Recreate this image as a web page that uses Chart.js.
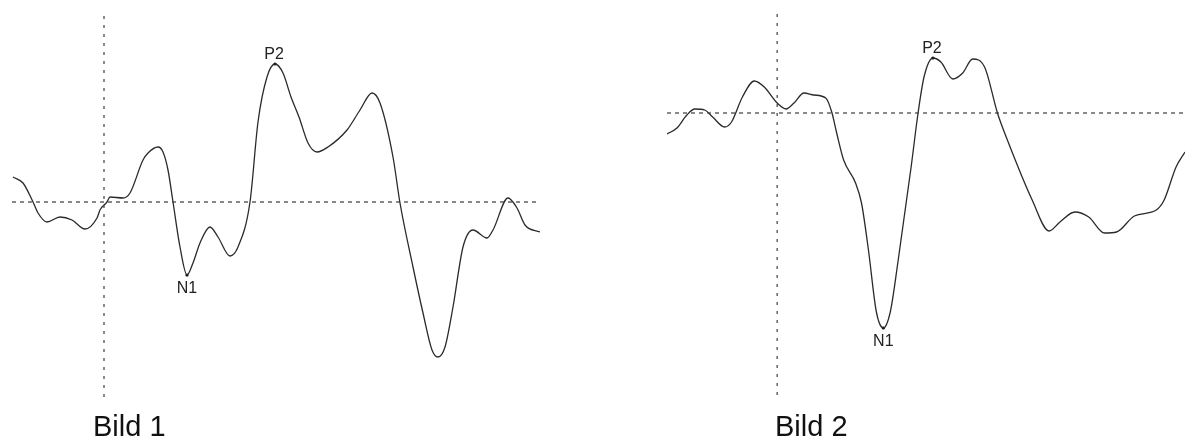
<!DOCTYPE html>
<html>
<head>
<meta charset="utf-8">
<script src="https://cdn.jsdelivr.net/npm/chart.js@4/dist/chart.umd.min.js"></script>
<style>
  html, body { margin: 0; padding: 0; background: #fff; }
  body { width: 1189px; height: 441px; position: relative; overflow: hidden; }
  .panel { position: absolute; top: 0; height: 441px; }
  .caption { position: absolute; font-family: "Liberation Sans", Arial, sans-serif; font-size: 29px; color: #111; line-height: 1; white-space: nowrap; }
</style>
</head>
<body>
<div class="panel" id="p1" style="left:0;width:560px;"><canvas id="c1"></canvas></div>
<div class="panel" id="p2" style="left:640px;width:549px;"><canvas id="c2"></canvas></div>
<div class="caption" style="left:93px;top:412px;">Bild 1</div>
<div class="caption" style="left:775px;top:412px;">Bild 2</div>
<script>
// Evoked potential, Bild 1: time (ms) relative to stimulus onset, amplitude (µV)
const time1 = [-182, -162, -142, -132, -114, -88, -64, -38, -14, -8, 6, 12, 38, 52, 78, 88, 108, 118, 128, 138, 152, 166, 178, 192, 212, 228, 252, 268, 292, 308, 326, 342, 358, 374, 390, 408, 426, 448, 486, 512, 536, 552, 578, 592, 618, 638, 656, 668, 682, 698, 718, 738, 766, 778, 808, 826, 842, 872];
const amp1  = [2.5, 1.9, 0, -1.1, -2.0, -1.5, -1.8, -2.7, -1.6, -0.8, 0, 0.5, 0.4, 0.9, 4.2, 4.9, 5.5, 5.0, 3.2, 0, -4.5, -7.3, -6.1, -4.1, -2.5, -3.5, -5.4, -4.5, 0, 8.0, 12.5, 13.8, 12.9, 10.5, 8.5, 5.9, 5.0, 5.5, 7.2, 9.2, 10.9, 9.9, 4.5, -0.1, -6.5, -11.1, -14.8, -15.5, -14.5, -10.5, -4.5, -2.8, -3.6, -2.8, 0.4, -0.6, -2.3, -3.0];
const peakNames1 = ['N1', 'P2'];
const peakTimes1 = [166, 342];
const peakAmps1  = [-7.3, 13.8];

// Evoked potential, Bild 2
const time2 = [-222, -202, -182, -166, -146, -130, -106, -92, -70, -46, -26, 0, 18, 34, 54, 74, 98, 110, 120, 134, 158, 170, 184, 200, 214, 228, 244, 270, 284, 296, 314, 330, 354, 374, 394, 418, 444, 464, 514, 548, 570, 600, 628, 660, 684, 720, 764, 780, 804, 822];
const amp2  = [-2.1, -1.5, -0.2, 0.4, 0.3, -0.4, -1.4, -0.9, 1.6, 3.2, 2.6, 1.0, 0.4, 1.0, 2.0, 1.8, 1.5, 0.1, -2.0, -4.7, -7.0, -9.0, -13.7, -19.9, -21.5, -19.9, -14.7, -5.4, 0, 3.6, 5.5, 5.1, 3.4, 4.0, 5.4, 4.6, 0, -2.7, -8.7, -11.8, -10.9, -9.9, -10.4, -12.0, -11.9, -10.3, -9.7, -8.7, -5.4, -3.9];
const peakNames2 = ['N1', 'P2'];
const peakTimes2 = [214, 314];
const peakAmps2  = [-21.5, 5.5];

// Visible axis windows for each plot
const xRange1 = [-184, 872], yRange1 = [-19.5, 18.7];
const xRange2 = [-222, 822], yRange2 = [-28.2, 10.0];

const INK = '#2a2a2a';
const GUIDE = '#3c3c3c';

// Writes peak names just above (P) or below (N) their markers
const peakLabels = {
  id: 'peakLabels',
  afterDatasetsDraw(chart, args, opts) {
    const { ctx, scales: { x, y } } = chart;
    ctx.save();
    ctx.font = '16px "Liberation Sans", Arial, sans-serif';
    ctx.fillStyle = '#222';
    ctx.textAlign = 'center';
    opts.names.forEach((name, i) => {
      const px = x.getPixelForValue(opts.times[i]);
      const py = y.getPixelForValue(opts.amps[i]);
      if (opts.amps[i] >= 0) {
        ctx.textBaseline = 'alphabetic';
        ctx.fillText(name, px - 1, py - 5);
      } else {
        ctx.textBaseline = 'top';
        ctx.fillText(name, px, py + 6);
      }
    });
    ctx.restore();
  }
};

function makePlot(canvasId, times, amps, names, pTimes, pAmps, xr, yr, padding) {
  const trace = times.map((t, i) => ({ x: t, y: amps[i] }));
  const peaks = pTimes.map((t, i) => ({ x: t, y: pAmps[i] }));
  return new Chart(document.getElementById(canvasId), {
    type: 'line',
    data: {
      datasets: [
        { data: [{ x: xr[0], y: 0 }, { x: xr[1], y: 0 }], borderColor: GUIDE, borderWidth: 1.2, borderDash: [4, 4], pointRadius: 0, tension: 0 },
        { data: [{ x: 0, y: yr[0] }, { x: 0, y: yr[1] }], borderColor: GUIDE, borderWidth: 1.2, borderDash: [3, 6], pointRadius: 0, tension: 0 },
        { data: trace, borderColor: INK, borderWidth: 1.3, pointRadius: 0, cubicInterpolationMode: 'monotone' },
        { type: 'scatter', data: peaks, backgroundColor: '#000', borderColor: '#000', pointRadius: 1.6, borderWidth: 0 }
      ]
    },
    options: {
      responsive: true,
      maintainAspectRatio: false,
      animation: false,
      events: [],
      layout: { padding },
      plugins: {
        legend: { display: false },
        tooltip: { enabled: false },
        peakLabels: { names, times: pTimes, amps: pAmps }
      },
      scales: {
        x: { type: 'linear', min: xr[0], max: xr[1], display: false },
        y: { type: 'linear', min: yr[0], max: yr[1], display: false }
      }
    },
    plugins: [peakLabels]
  });
}

makePlot('c1', time1, amp1, peakNames1, peakTimes1, peakAmps1, xRange1, yRange1, { left: 12, right: 20, top: 15, bottom: 44 });
makePlot('c2', time2, amp2, peakNames2, peakTimes2, peakAmps2, xRange2, yRange2, { left: 27, right: 0, top: 13, bottom: 46 });
</script>
</body>
</html>
